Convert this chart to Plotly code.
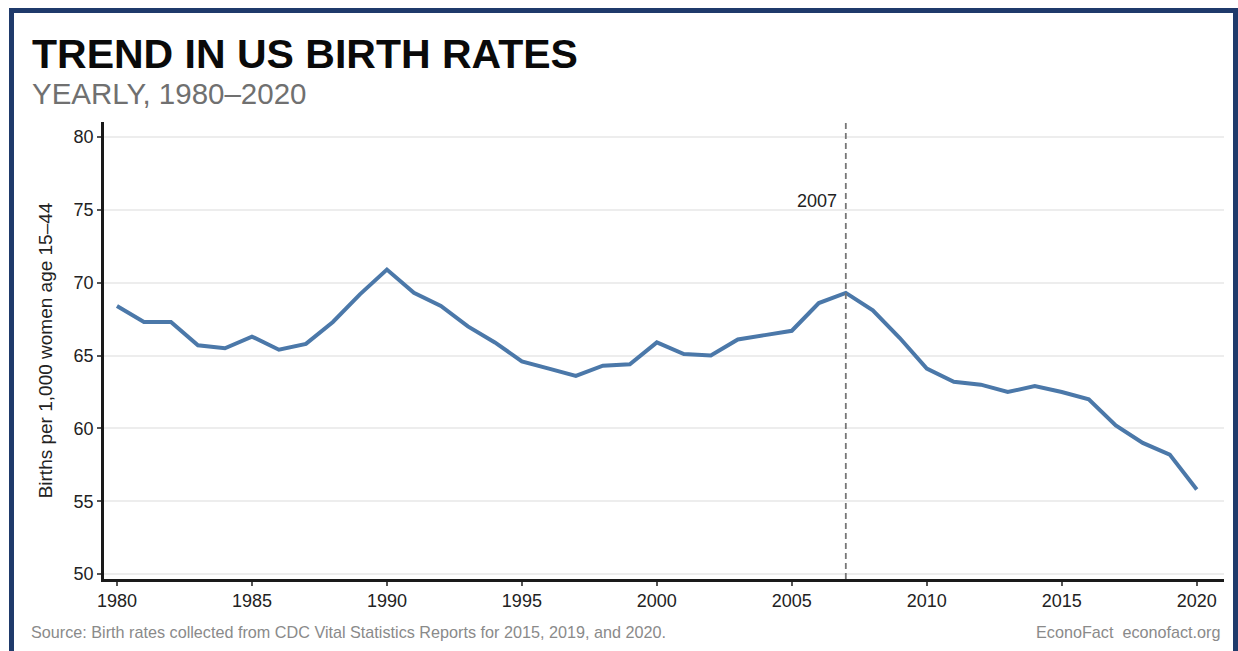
import plotly.graph_objects as go

# ---- data ----
years = list(range(1980, 2021))
birth_rate = [
    68.4, 67.3, 67.3, 65.7, 65.5, 66.3, 65.4, 65.8, 67.3, 69.2,   # 1980-1989
    70.9, 69.3, 68.4, 67.0, 65.9, 64.6, 64.1, 63.6, 64.3, 64.4,   # 1990-1999
    65.9, 65.1, 65.0, 66.1, 66.4, 66.7, 68.6, 69.3, 68.1, 66.2,   # 2000-2009
    64.1, 63.2, 63.0, 62.5, 62.9, 62.5, 62.0, 60.2, 59.0, 58.2,   # 2010-2019
    55.8,                                                          # 2020
]
x_ticks = [1980, 1985, 1990, 1995, 2000, 2005, 2010, 2015, 2020]
y_ticks = [50, 55, 60, 65, 70, 75, 80]
marker_year = 2007

title_text = "TREND IN US BIRTH RATES"
subtitle_text = "YEARLY, 1980\u20132020"
y_title = "Births per 1,000 women age 15\u201344"
source_text = "Source: Birth rates collected from CDC Vital Statistics Reports for 2015, 2019, and 2020."
credit_text = "EconoFact\u00a0\u00a0econofact.org"

# ---- layout geometry (pixels) ----
W, H = 1238, 651
L, R, T, B = 104, 14, 122, 72
PW, PH = W - L - R, H - T - B

def px_x(p):
    return (p - L) / PW

def px_y(p):
    return (H - B - p) / PH

FONT = "Liberation Sans, Arial, Helvetica, sans-serif"
LINE_COLOR = "#4b78a9"
NAVY = "#1f3a6b"

fig = go.Figure()
fig.add_trace(go.Scatter(
    x=years, y=birth_rate, mode="lines",
    line=dict(color=LINE_COLOR, width=4),
    hoverinfo="x+y", showlegend=False,
))

shapes = [
    # dashed vertical reference line
    dict(type="line", xref="x", yref="paper", x0=marker_year, x1=marker_year,
         y0=0, y1=1, line=dict(color="#777777", width=1.8, dash="6px,4px"), layer="above"),
    # frame border
    dict(type="rect", xref="paper", yref="paper",
         x0=px_x(11.5), x1=px_x(1235.5), y0=px_y(700), y1=px_y(10.5),
         line=dict(color=NAVY, width=5), fillcolor="rgba(0,0,0,0)", layer="above"),
]

annotations = [
    dict(text=f"<b>{title_text}</b>", xref="paper", yref="paper",
         x=px_x(30), y=px_y(54), xanchor="left", yanchor="middle", showarrow=False,
         font=dict(family=FONT, size=41, color="#0a0a0a")),
    dict(text=subtitle_text, xref="paper", yref="paper",
         x=px_x(30), y=px_y(93), xanchor="left", yanchor="middle", showarrow=False,
         font=dict(family=FONT, size=29.5, color="#707070")),
    dict(text=source_text, xref="paper", yref="paper",
         x=px_x(29), y=px_y(632), xanchor="left", yanchor="middle", showarrow=False,
         font=dict(family=FONT, size=16.2, color="#8a8a8a")),
    dict(text=credit_text, xref="paper", yref="paper",
         x=px_x(1222), y=px_y(632), xanchor="right", yanchor="middle", showarrow=False,
         font=dict(family=FONT, size=16.2, color="#8a8a8a")),
    dict(text=str(marker_year), xref="x", yref="paper",
         x=marker_year, xshift=-7, y=px_y(201), xanchor="right", yanchor="middle",
         showarrow=False, font=dict(family=FONT, size=18, color="#222222")),
]

fig.update_layout(
    width=W, height=H, autosize=False,
    margin=dict(l=L, r=R, t=T, b=B, pad=0),
    paper_bgcolor="white", plot_bgcolor="white",
    font=dict(family=FONT, color="#222222"),
    shapes=shapes, annotations=annotations,
    showlegend=False,
)
fig.update_xaxes(
    range=[1979.52, 2021.01], tickvals=x_ticks, ticktext=[str(v) for v in x_ticks],
    showgrid=False, zeroline=False,
    showline=True, linecolor="#1a1a1a", linewidth=2.6,
    ticks="outside", ticklen=4, tickwidth=1.5, tickcolor="#555555",
    tickfont=dict(family=FONT, size=18, color="#222222"),
)
fig.update_yaxes(
    range=[49.66, 81.03], tickvals=y_ticks, ticktext=[str(v) for v in y_ticks],
    showgrid=True, gridcolor="#ededed", gridwidth=1.8, zeroline=False,
    showline=True, linecolor="#1a1a1a", linewidth=2.6,
    ticks="outside", ticklen=4, tickwidth=1.5, tickcolor="#555555",
    tickfont=dict(family=FONT, size=18, color="#222222"),
    title=dict(text=y_title, font=dict(family=FONT, size=19, color="#222222"), standoff=16),
)

fig.write_html("out.html")
